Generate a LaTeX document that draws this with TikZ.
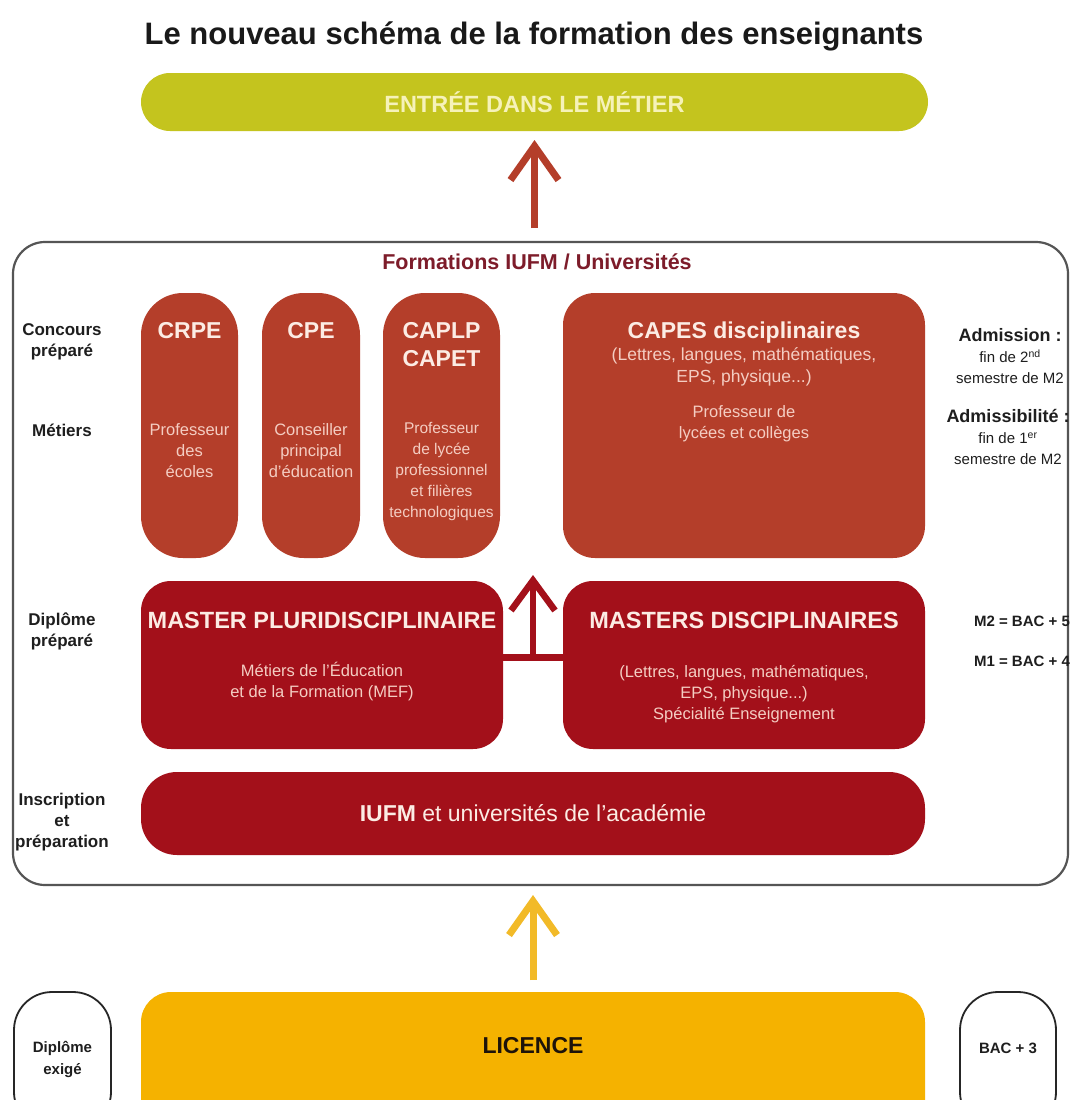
\documentclass[tikz,border=0pt]{standalone}
\usepackage{fontspec}
\setmainfont{Liberation Sans}
\usetikzlibrary{arrows.meta}
\definecolor{cgreen}{RGB}{196,196,30}
\definecolor{cgreentxt}{RGB}{246,242,185}
\definecolor{crust}{RGB}{180,62,42}
\definecolor{cdark}{RGB}{163,16,26}
\definecolor{cyellow}{RGB}{245,178,0}
\definecolor{cyarrow}{RGB}{242,186,40}
\definecolor{cframe}{RGB}{85,85,85}
\definecolor{cformtxt}{RGB}{125,28,42}
\definecolor{ctitlew}{RGB}{252,236,228}
\definecolor{csubw}{RGB}{244,205,194}
\definecolor{clabel}{RGB}{30,30,30}
\newcommand{\fs}[2]{\fontsize{#1}{#2}\selectfont}
\begin{document}
\begin{tikzpicture}[x=1pt,y=-1pt,
  shapebox/.style={rectangle, inner sep=0pt, outer sep=0pt, draw=none},
  rustbox/.style={shapebox, fill=crust},
  darkbox/.style={shapebox, fill=cdark},
  outlinebox/.style={shapebox, draw=black!85, line width=1.8pt, fill=white},
  lbl/.style={inner sep=0pt, outer sep=0pt, align=center},
  sidelbl/.style={lbl, text=clabel, font=\bfseries\fs{17}{21}},
  boxtitle/.style={lbl, text=ctitlew, font=\bfseries\fs{23}{28}},
  boxsub/.style={lbl, text=csubw, font=\fs{16.5}{21}},
  rightlbl/.style={lbl, text=clabel},
  bigarrow/.style={line width=7pt, -{Straight Barb[length=34pt,width=48pt]}}
]
\useasboundingbox (0,0) rectangle (1072,1100);
\clip (0,0) rectangle (1072,1100);
\fill[white] (0,0) rectangle (1072,1100);

% title
\node[lbl, font=\bfseries\fs{31}{34}, text=black!90] (title) at (534,36) {Le nouveau schéma de la formation des enseignants};

% top green bar
\node[shapebox, fill=cgreen, minimum width=787pt, minimum height=58pt, rounded corners=29pt,
      text=cgreentxt, font=\bfseries\fs{23.5}{26}] (green) at (534.5,102) {ENTRÉE DANS LE MÉTIER};

% outer frame
\node[shapebox, draw=cframe, line width=2.2pt, minimum width=1055pt, minimum height=643pt,
      rounded corners=32pt] (outer) at (540.5,563.5) {};
\node[lbl, font=\bfseries\fs{21.5}{24}, text=cformtxt] (formations) at (537,262) {Formations IUFM / Universités};

% left labels
\node[sidelbl] (lconc) at (62,342) {Concours\\préparé};
\node[sidelbl] (lmet) at (62,430) {Métiers};
\node[sidelbl] (ldipl) at (62,631) {Diplôme\\préparé};
\node[sidelbl] (linsc) at (62,822) {Inscription\\et\\préparation};

% row 1
\node[rustbox, minimum width=97pt, minimum height=265pt, rounded corners=42pt] (crpe) at (189.5,425.5) {};
\node[rustbox, minimum width=98pt, minimum height=265pt, rounded corners=42pt] (cpe) at (311,425.5) {};
\node[rustbox, minimum width=117pt, minimum height=265pt, rounded corners=42pt] (caplp) at (441.5,425.5) {};
\node[rustbox, minimum width=362pt, minimum height=265pt, rounded corners=32pt] (capes) at (744,425.5) {};

\node[boxtitle] (tcrpe) at (189.5,331) {CRPE};
\node[boxsub] (scrpe) at (189.5,451) {Professeur\\des\\écoles};
\node[boxtitle] (tcpe) at (311,331) {CPE};
\node[boxsub] (scpe) at (311,451) {Conseiller\\principal\\d'éducation};
\node[boxtitle] (tcaplp) at (441.5,345) {CAPLP\\CAPET};
\node[boxsub, font=\fs{15.5}{21}] (scaplp) at (441.5,471) {Professeur\\de lycée\\professionnel\\et filières\\technologiques};
\node[boxtitle] (tcapes) at (744,333) {CAPES disciplinaires};
\node[boxsub, font=\fs{17.5}{22}] (scapes) at (744,367) {(Lettres, langues, mathématiques,\\EPS, physique...)};
\node[boxsub] (scapes2) at (744,424) {Professeur de\\lycées et collèges};

% right labels row 1
\node[rightlbl, font=\fs{15}{21}] (radm) at (1010,356) {\textbf{\fs{18}{21}Admission :}\\fin de 2\textsuperscript{nd}\\semestre de M2};
\node[rightlbl, font=\fs{15}{21}] (radmi) at (1008,437) {\textbf{\fs{18}{21}Admissibilité :}\\fin de 1\textsuperscript{er}\\semestre de M2};

% row 2
\node[darkbox, minimum width=362pt, minimum height=168pt, rounded corners=30pt] (mpl) at (322,665) {};
\node[darkbox, minimum width=362pt, minimum height=168pt, rounded corners=30pt] (mdisc) at (744,665) {};
\node[boxtitle, font=\bfseries\fs{23.5}{26}] (tmpl) at (322,620) {MASTER PLURIDISCIPLINAIRE};
\node[boxsub] (smpl) at (322,682) {Métiers de l'Éducation\\et de la Formation (MEF)};
\node[boxtitle, font=\bfseries\fs{23.5}{26}] (tmdisc) at (744,620) {MASTERS DISCIPLINAIRES};
\node[boxsub] (smdisc) at (744,694) {(Lettres, langues, mathématiques,\\EPS, physique...)\\Spécialité Enseignement};

\node[rightlbl, font=\bfseries\fs{15}{18}] (rm2) at (1022,621) {M2 = BAC + 5};
\node[rightlbl, font=\bfseries\fs{15}{18}] (rm1) at (1022,661) {M1 = BAC + 4};

% row 3
\node[darkbox, minimum width=784pt, minimum height=83pt, rounded corners=36pt,
      text=ctitlew, font=\fs{23}{26}] (iufm) at (533,813.5) {\textbf{IUFM} et universités de l'académie};

% bottom
\node[shapebox, fill=cyellow, minimum width=784pt, minimum height=138pt, rounded corners=30pt] (licence) at (533,1061) {};
\node[lbl, font=\bfseries\fs{23}{26}, text=black!85!brown] (tlicence) at (533,1046) {LICENCE};
\node[outlinebox, minimum width=97pt, minimum height=138pt, rounded corners=38pt] (dipl) at (62.5,1061) {};
\node[lbl, font=\bfseries\fs{15}{22}, text=clabel] (tdipl) at (62.5,1059) {Diplôme\\exigé};
\node[outlinebox, minimum width=96pt, minimum height=138pt, rounded corners=38pt] (bac) at (1008,1061) {};
\node[lbl, font=\bfseries\fs{15}{22}, text=clabel] (tbac) at (1008,1048) {BAC + 3};

% connectors
\draw[bigarrow, draw=crust, shorten <=14pt, shorten >=9pt] (green.south |- outer.north) -- (green.south);

\coordinate (barmid) at (533,657);
\draw[cdark, line width=7pt] (mpl.east |- barmid) -- (mdisc.west |- barmid);
\draw[bigarrow, draw=cdark, line width=6.5pt, -{Straight Barb[length=30pt,width=44pt]}, shorten >=17pt] (barmid) -- (barmid |- capes.south);

\draw[bigarrow, draw=cyarrow, shorten <=12pt, shorten >=10pt] (licence.north) -- (licence.north |- outer.south);
\end{tikzpicture}
\end{document}
